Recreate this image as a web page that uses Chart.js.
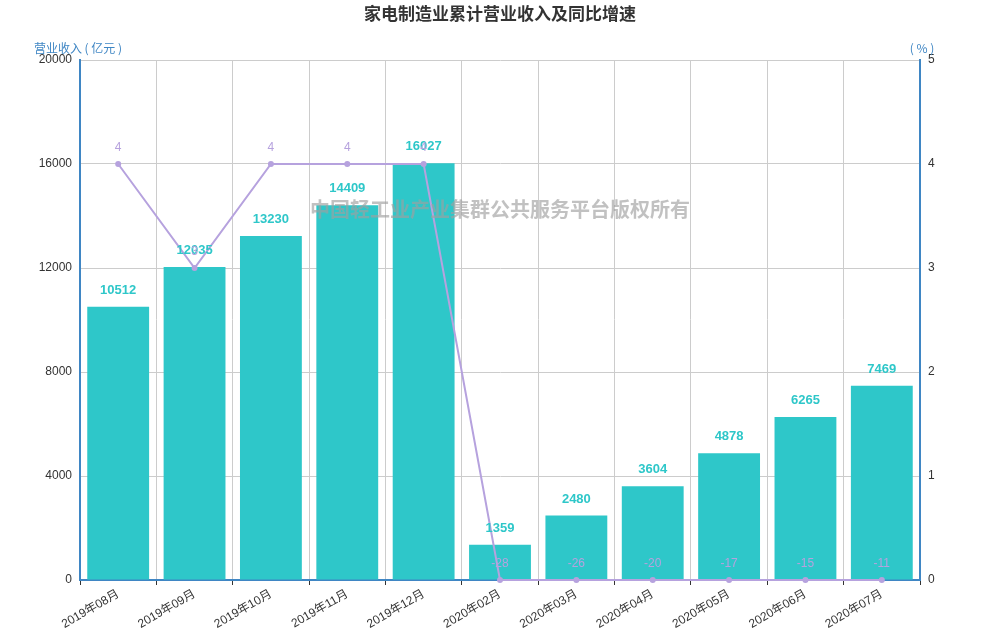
<!DOCTYPE html>
<html>
<head>
<meta charset="utf-8">
<script src="https://cdn.jsdelivr.net/npm/chart.js@4/dist/chart.umd.min.js"></script>
<style>
  html, body { margin: 0; padding: 0; background: #fff; }
  #wrap { width: 1000px; height: 640px; }
</style>
</head>
<body>
<div id="wrap"><canvas id="chart" width="1000" height="640"></canvas></div>
<script>
// Chart data
const months = ['2019年08月', '2019年09月', '2019年10月', '2019年11月', '2019年12月',
    '2020年02月', '2020年03月', '2020年04月', '2020年05月', '2020年06月', '2020年07月'];
const revenue = [10512, 12035, 13230, 14409, 16027, 1359, 2480, 3604, 4878, 6265, 7469];
const growth = [4, 3, 4, 4, 4, -28, -26, -20, -17, -15, -11];

const barColor = '#2ec7c9';
const lineColor = '#b6a2de';
const axisBlue = '#3f86c4';
const fontFamily = "'Liberation Sans', 'Noto Sans CJK SC', sans-serif";

// right axis starts at 0, so negative growth sits on the bottom edge
const growthShown = growth.map(v => Math.max(v, 0));

// Draws title, axis names, value labels and the watermark
const decorPlugin = {
    id: 'decor',
    afterDatasetsDraw(chart) {
        const ctx = chart.ctx;
        const area = chart.chartArea;
        ctx.save();

        // value labels on bars (dataset 1)
        ctx.textAlign = 'center';
        ctx.textBaseline = 'bottom';
        ctx.font = `bold 13px ${fontFamily}`;
        ctx.fillStyle = barColor;
        chart.getDatasetMeta(1).data.forEach((bar, i) => {
            ctx.fillText(revenue[i], bar.x, bar.y - 10);
        });

        // value labels on line points (dataset 0)
        ctx.font = `12px ${fontFamily}`;
        ctx.fillStyle = lineColor;
        chart.getDatasetMeta(0).data.forEach((pt, i) => {
            ctx.fillText(growth[i], pt.x, pt.y - 10);
        });

        // watermark
        ctx.font = `bold 20px 'Noto Sans CJK SC', sans-serif`;
        ctx.fillStyle = 'rgba(160, 160, 160, 0.65)';
        ctx.textBaseline = 'middle';
        ctx.fillText('中国轻工业产业集群公共服务平台版权所有', 500, 209);

        // title
        ctx.font = `bold 17px 'Noto Sans CJK SC', sans-serif`;
        ctx.fillStyle = '#333';
        ctx.fillText('家电制造业累计营业收入及同比增速', 500, 14);

        // axis names
        ctx.font = `12px 'Noto Sans CJK SC', sans-serif`;
        ctx.fillStyle = axisBlue;
        ctx.fillText('营业收入 ( 亿元 )', area.left - 2, 48);
        ctx.fillText('( % )', area.right + 2, 48);
        ctx.restore();
    }
};

const ctx = document.getElementById('chart').getContext('2d');
const chart = new Chart(ctx, {
    type: 'bar',
    data: {
        labels: months,
        datasets: [
            {
                type: 'line',
                label: '同比增速',
                data: growthShown,
                yAxisID: 'y2',
                borderColor: lineColor,
                backgroundColor: lineColor,
                borderWidth: 2,
                pointRadius: 3,
                pointBackgroundColor: lineColor,
                pointBorderWidth: 0,
                tension: 0,
                order: 0,
                clip: false
            },
            {
                type: 'bar',
                label: '营业收入',
                data: revenue,
                yAxisID: 'y',
                backgroundColor: barColor,
                barPercentage: 0.81,
                categoryPercentage: 1.0,
                order: 1
            }
        ]
    },
    options: {
        responsive: false,
        animation: false,
        layout: {
            padding: { top: 60, left: 0, right: 0, bottom: 0 }
        },
        plugins: {
            legend: { display: false },
            title: { display: false },
            tooltip: { enabled: false }
        },
        scales: {
            x: {
                offset: true,
                grid: {
                    offset: true,
                    color: '#cccccc',
                    drawTicks: true,
                    tickColor: '#333',
                    tickLength: 5
                },
                border: { color: axisBlue, width: 2 },
                ticks: {
                    color: '#333',
                    font: { family: fontFamily, size: 12 },
                    minRotation: 30,
                    maxRotation: 30,
                    padding: 2
                },
                afterFit(scale) { scale.height = 60; }
            },
            y: {
                position: 'left',
                min: 0,
                max: 20000,
                ticks: {
                    stepSize: 4000,
                    color: '#333',
                    font: { family: fontFamily, size: 12 },
                    padding: 8,
                    callback: v => String(v)
                },
                grid: { color: '#cccccc', drawTicks: false },
                border: { color: axisBlue, width: 2 },
                afterFit(scale) { scale.width = 80; }
            },
            y2: {
                position: 'right',
                min: 0,
                max: 5,
                ticks: {
                    stepSize: 1,
                    color: '#333',
                    font: { family: fontFamily, size: 12 },
                    padding: 8
                },
                grid: { display: false, drawTicks: false },
                border: { color: axisBlue, width: 2 },
                afterFit(scale) { scale.width = 80; }
            }
        }
    },
    plugins: [decorPlugin]
});
</script>
</body>
</html>
